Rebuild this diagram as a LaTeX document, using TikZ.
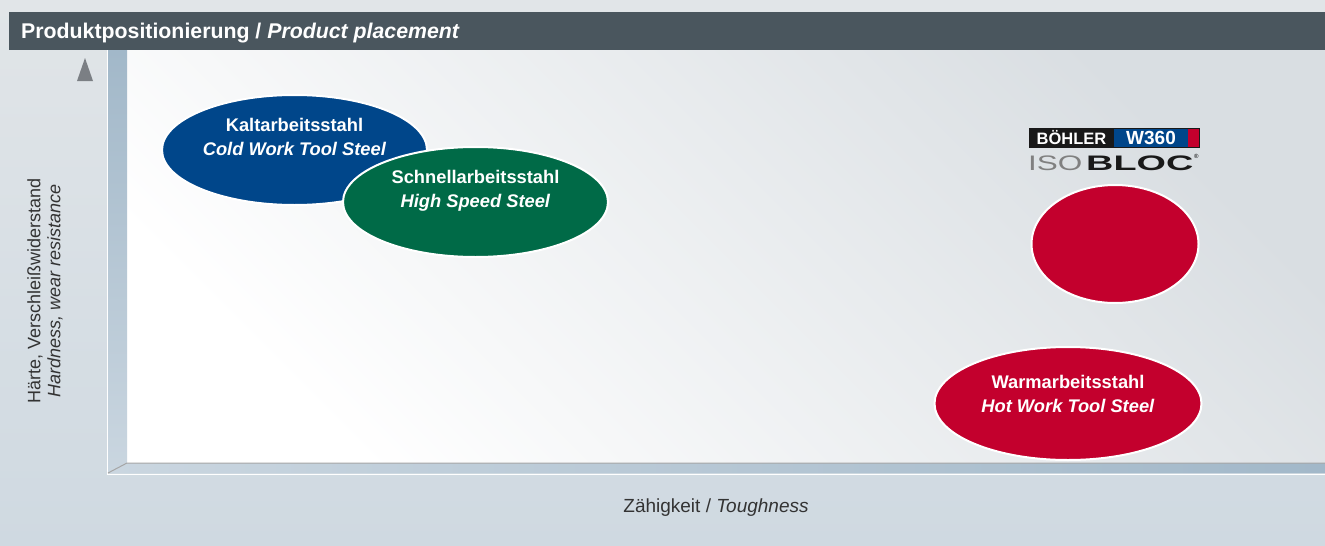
\documentclass[tikz,border=0pt]{standalone}
\usepackage{fontspec}
\setmainfont{Liberation Sans}
\usetikzlibrary{shapes.geometric, positioning}
\definecolor{headgray}{HTML}{4A565E}
\definecolor{pagebg}{HTML}{CFD9E1}
\definecolor{pagetop}{HTML}{E1E5E8}
\definecolor{barlight}{HTML}{CAD6E0}
\definecolor{bardark}{HTML}{A2B8C9}
\definecolor{plotgray}{HTML}{D9DEE2}
\definecolor{coldblue}{HTML}{00468A}
\definecolor{hssgreen}{HTML}{006A47}
\definecolor{hotred}{HTML}{C3002D}
\definecolor{arrowgray}{HTML}{7B7F84}
\definecolor{labelgray}{HTML}{333333}

\begin{document}
\begin{tikzpicture}[x=1pt, y=-1pt,
        steel/.style     = {ellipse, draw=white, line width=2pt, inner sep=0pt},
        steeltext/.style = {text=white, align=center, font=\fontsize{18.3}{24}\selectfont\bfseries},
        axistext/.style  = {text=labelgray, align=center, font=\fontsize{18}{20}\selectfont},
        logotext/.style  = {inner sep=0pt, anchor=base west}]
        \useasboundingbox (0,0) rectangle (1325,546);
        \shade[top color=pagetop, bottom color=pagebg] (0,0) rectangle (1325,546);

        % header
        \fill[headgray] (9,12) rectangle (1325,50);
        \node[logotext, text=white, font=\fontsize{21.3}{24}\selectfont\bfseries] (title) at (21,38)
            {Produktpositionierung / \textit{Product placement}};

        % plot area and frame
        \shade[top color=plotgray, bottom color=white, shading angle=-45] (127,50) rectangle (1325,463);
        \shade[top color=bardark, bottom color=barlight] (108,50) -- (127,50) -- (127,463) -- (108,473) -- cycle;
        \shade[left color=barlight, right color=bardark] (108,473) -- (127,463) -- (1325,463) -- (1325,473) -- cycle;
        \draw[white, line width=1pt] (107.5,50) -- (107.5,474) -- (1325,474);
        \draw[gray!70, line width=1pt] (108,473) -- (127,463) -- (1325,463);
        \fill[arrowgray] (85,58) -- (93,81) -- (77,81) -- cycle;

        % axis labels
        \node[axistext, rotate=90] (ylabel) at (45,291)
            {Härte, Verschleißwiderstand\\\textit{Hardness, wear resistance}};
        \node[axistext, anchor=base, font=\fontsize{19}{20}\selectfont] (xlabel) at (716,512) {Zähigkeit / \textit{Toughness}};

        % steel groups
        \node[steel, fill=coldblue, minimum width=265, minimum height=110] (cold) at (294.5,150) {};
        \node[steeltext] (coldtext) at ([yshift=13pt]cold.center) {Kaltarbeitsstahl\\\textit{Cold Work Tool Steel}};
        \node[steel, fill=hssgreen, minimum width=265, minimum height=110] (hss) at (475.5,202) {};
        \node[steeltext] (hsstext) at ([yshift=11pt]hss.center) {Schnellarbeitsstahl\\\textit{High Speed Steel}};
        \node[steel, fill=hotred, minimum width=167, minimum height=118] (isobloc) at (1115,244) {};
        \node[steel, fill=hotred, minimum width=267, minimum height=113] (hot) at (1068,403.5) {};
        \node[steeltext] (hottext) at ([yshift=10pt]hot.center) {Warmarbeitsstahl\\\textit{Hot Work Tool Steel}};

        % logo
        \fill[black!90] (1029,128) rectangle (1114,147);
        \fill[coldblue] (1114,128) rectangle (1188,147);
        \fill[hotred] (1188,128) rectangle (1199,147);
        \draw[black!90, line width=1pt] (1029,128) rectangle (1199,147);
        \node[text=white, font=\fontsize{16.5}{17}\selectfont\bfseries] (boehler) at (1071.5,138) {BÖHLER};
        \node[text=white, font=\fontsize{19}{19}\selectfont\bfseries] (w360) at (1151,138) {W360};
        \node[logotext, text=gray, font=\fontsize{21}{21}\selectfont] (iso) at (1028,170) {\scalebox{1.5}[1]{ISO}};
        \node[logotext, text=black!90, font=\fontsize{21}{21}\selectfont\bfseries] (bloc) at (1086,170) {\scalebox{1.8}[1]{BLOC}};
        \node[inner sep=0pt, font=\fontsize{6}{6}\selectfont, anchor=north west] (reg) at (1194,154) {®};
    \end{tikzpicture}
\end{document}
